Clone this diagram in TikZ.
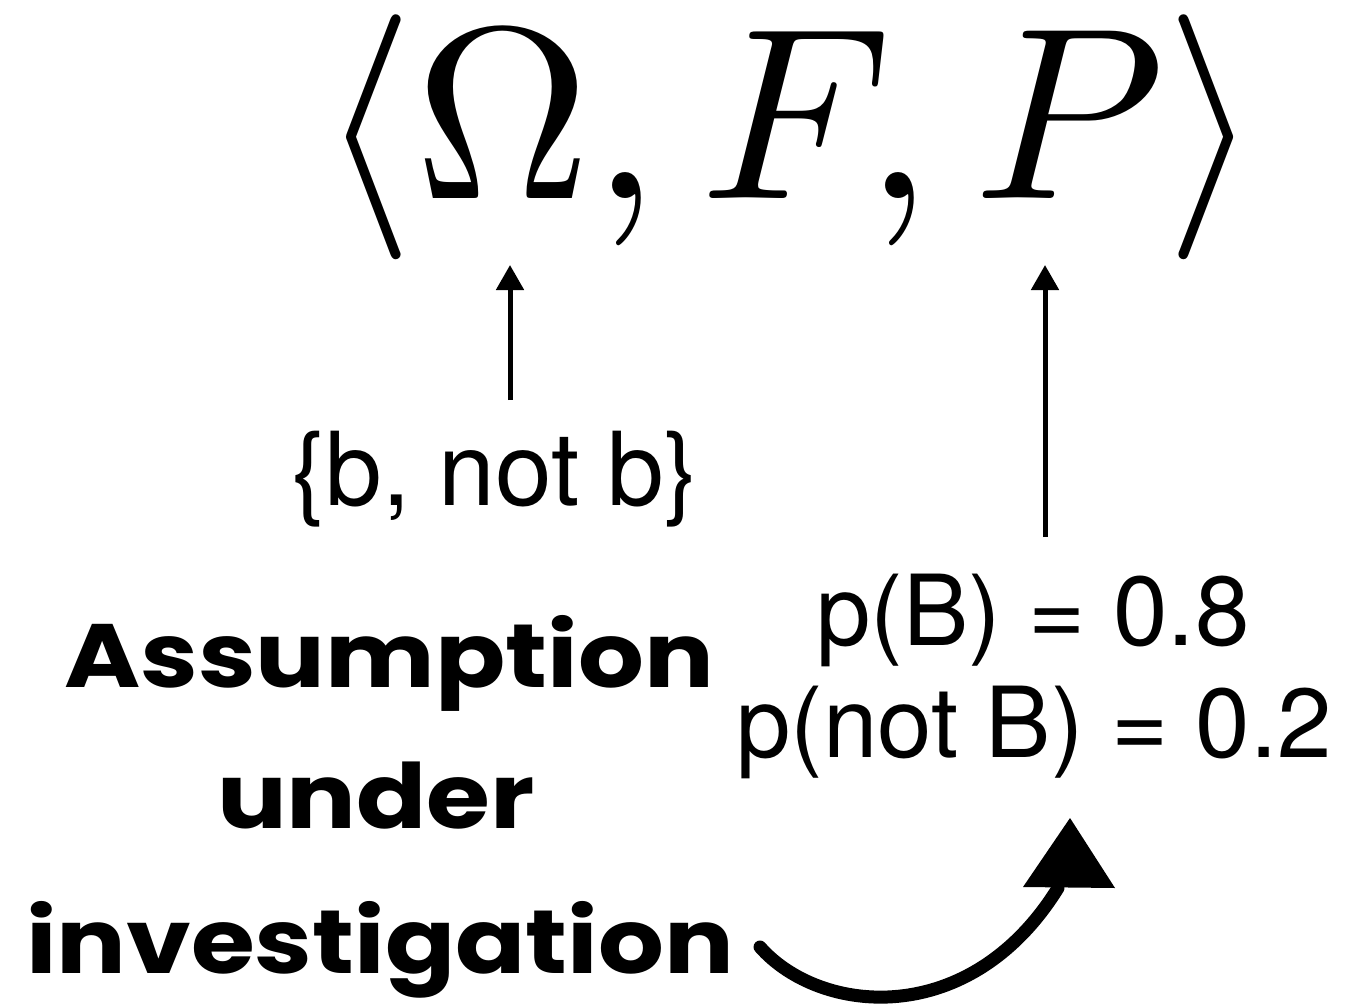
\documentclass[tikz,border=0pt]{standalone}
\usepackage{fontspec}
\setmainfont{TeX Gyre Heros}
\newfontfamily\handfont[FakeStretch=1.15]{Poppins}
\usetikzlibrary{arrows.meta}
\begin{document}
\begin{tikzpicture}[x=1pt,y=-1pt,
  lbl/.style={font=\fontsize{98}{110}\selectfont, anchor=base, inner sep=0pt},
  hand/.style={font=\handfont\bfseries\fontsize{90}{100}\selectfont, anchor=base, inner sep=0pt},
  uparrow/.style={line width=5pt, -{Triangle[width=27pt,length=25pt]}}]
\useasboundingbox[fill=white] (0,0) rectangle (1364,1008);
\node[scale=24.5, anchor=base, inner sep=0pt] (tuple) at (790,199) {$\langle\Omega, F, P\rangle$};
\coordinate (omtip) at (510,265);
\coordinate (ptip) at (1045,265);
\node[lbl, font=\fontsize{102}{110}\selectfont] (omegaset) at (495,505) {\{b, not b\}};
\node[lbl] (pb) at (1033,645) {p(B) = 0.8};
\node[lbl] (pnb) at (1034,757) {p(not B) = 0.2};
\draw[uparrow] (510,400) coordinate (omtail) -- (omtip);
\draw[uparrow] (1045,537) coordinate (ptail) -- (ptip);
\node[hand] (assump) at (389,687) {Assumption};
\node[hand] (under) at (376,828) {under};
\node[hand] (invest) at (380,973) {investigation};
\coordinate (cstart) at (760,947);
\coordinate (cend) at (1058,888);
\draw[line width=13pt, line cap=round] (cstart) .. controls (820,1015) and (970,1030) .. (cend);
\fill (1070,818) -- (1115,888) -- (1023,887) -- cycle;
\end{tikzpicture}
\end{document}
